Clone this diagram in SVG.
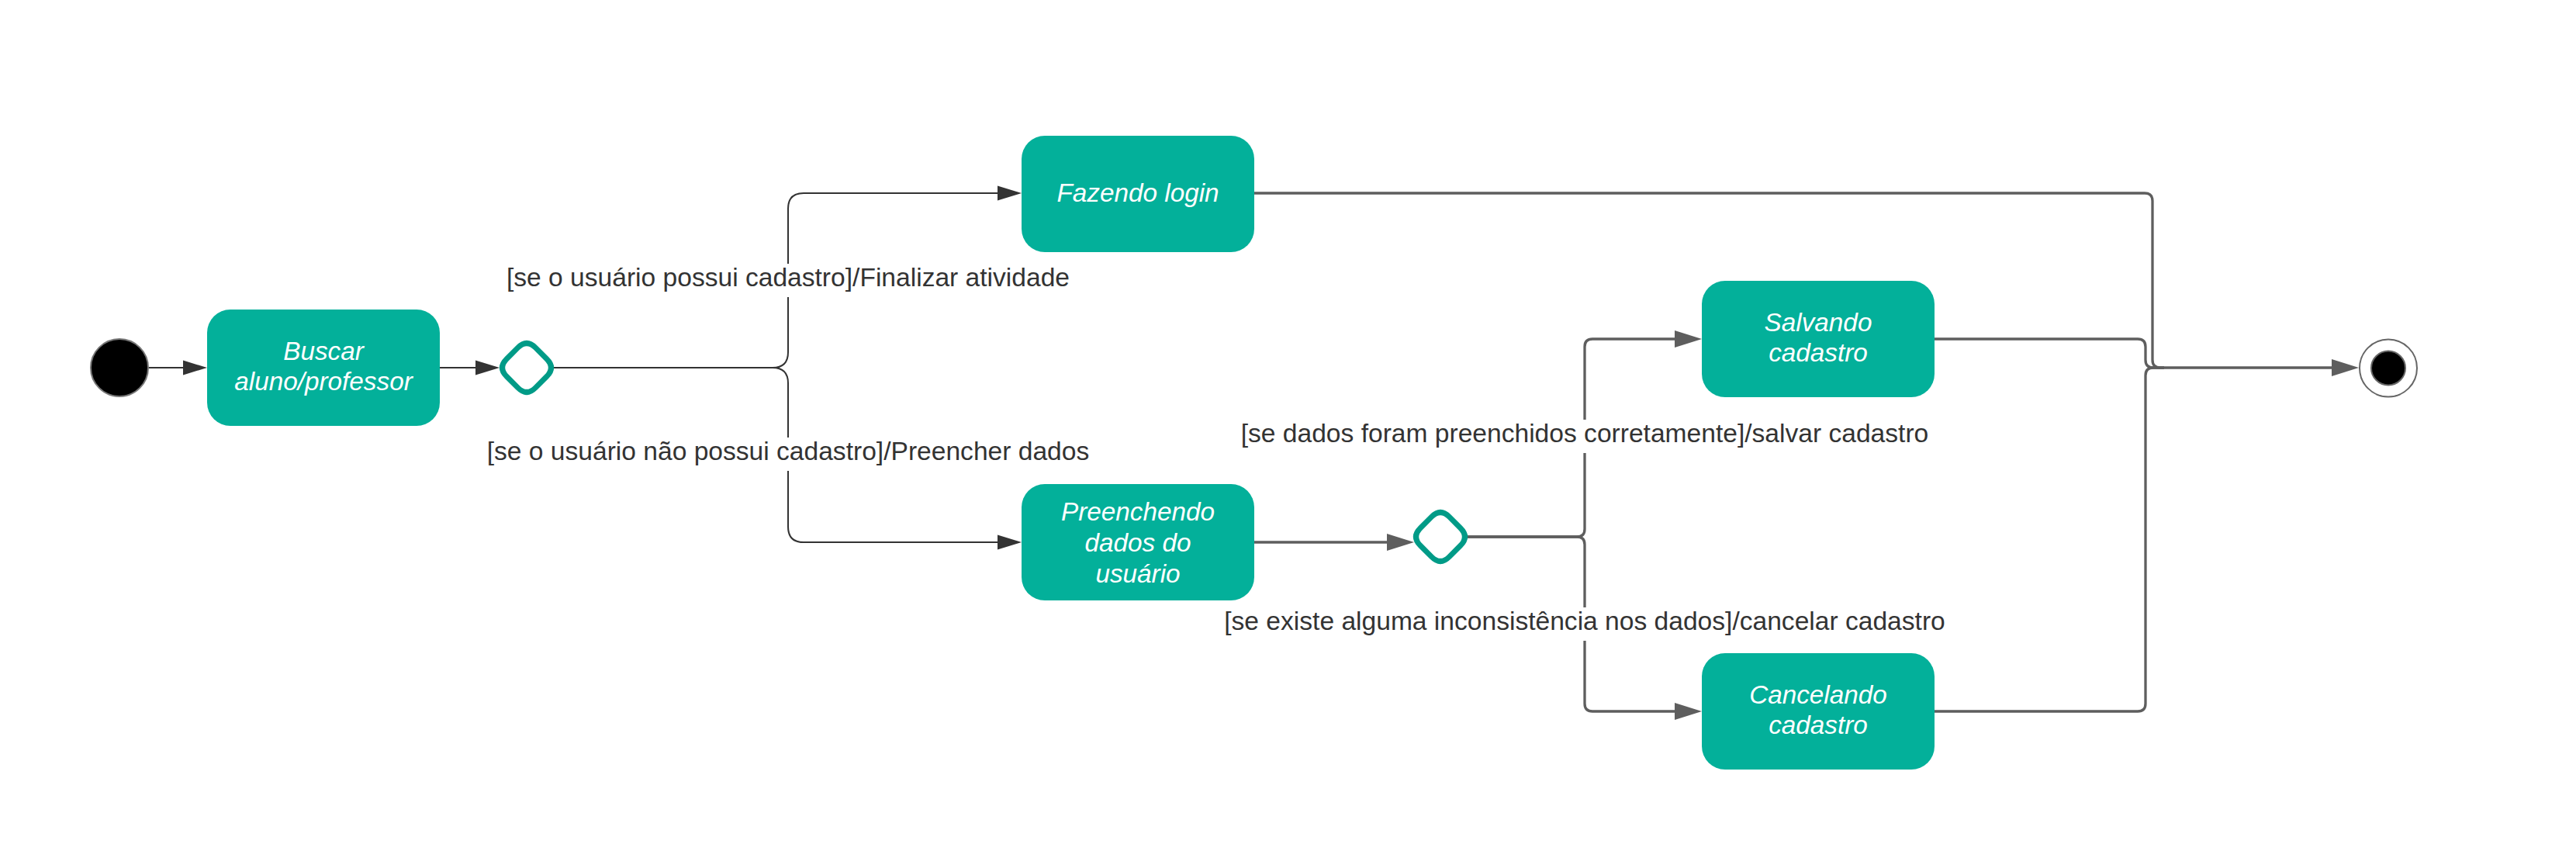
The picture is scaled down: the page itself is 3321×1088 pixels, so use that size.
<svg xmlns="http://www.w3.org/2000/svg" width="3321" height="1088" viewBox="0 0 3321 1088">
<style>
.box{fill:#03B09A;}
.ntxt{font-family:"Liberation Sans",Arial,sans-serif;font-size:33.3px;font-style:italic;fill:#FFFFFF;text-anchor:middle;}
.lbl{font-family:"Liberation Sans",Arial,sans-serif;font-size:33.6px;fill:#333333;text-anchor:middle;}
.lblbg{fill:#FFFFFF;}
.dia{fill:#FFFFFF;stroke:#009B87;stroke-width:7;stroke-linejoin:round;}
.thin{fill:none;stroke:#333333;stroke-width:2;}
.thick{fill:none;stroke:#5E5E5E;stroke-width:3.3;}
.ah1{fill:#333333;}
.ah2{fill:#5E5E5E;}
</style>
<defs>
<path id="diamond" d="M -11.31,-25.85 Q 0,-37.16 11.31,-25.85 L 25.85,-11.31 Q 37.16,0 25.85,11.31 L 11.31,25.85 Q 0,37.16 -11.31,25.85 L -25.85,11.31 Q -37.16,0 -25.85,-11.31 Z"/>
</defs>
<rect width="3321" height="1088" fill="#FFFFFF"/>

<g id="connectors">
  <path class="thin" d="M 191 474 H 238"/>
  <polygon class="ah1" points="236,464.5 267,474 236,483.5"/>
  <path class="thin" d="M 567 474 H 615"/>
  <polygon class="ah1" points="613,464.5 644,474 613,483.5"/>
  <path class="thin" d="M 714 474 H 996 Q 1016 474 1016 454 V 269 Q 1016 249 1036 249 H 1288"/>
  <polygon class="ah1" points="1286,239.5 1317,249 1286,258.5"/>
  <path class="thin" d="M 714 474 H 996 Q 1016 474 1016 494 V 679 Q 1016 699 1036 699 H 1288"/>
  <polygon class="ah1" points="1286,689.5 1317,699 1286,708.5"/>

  <path class="thick" d="M 1616 249 H 2765 Q 2775 249 2775 259 V 464 Q 2775 474 2785 474 H 3008"/>
  <polygon class="ah2" points="3006,463 3041,474 3006,485"/>
  <path class="thick" d="M 1616 699 H 1790"/>
  <polygon class="ah2" points="1788,688 1823,699 1788,710"/>
  <path class="thick" d="M 1892 692 H 2033 Q 2043 692 2043 682 V 447 Q 2043 437 2053 437 H 2161"/>
  <polygon class="ah2" points="2159,426 2194,437 2159,448"/>
  <path class="thick" d="M 1892 692 H 2033 Q 2043 692 2043 702 V 907 Q 2043 917 2053 917 H 2161"/>
  <polygon class="ah2" points="2159,906 2194,917 2159,928"/>
  <path class="thick" d="M 2494 437 H 2756 Q 2766 437 2766 447 V 464 Q 2766 474 2776 474 H 2790"/>
  <path class="thick" d="M 2494 917 H 2756 Q 2766 917 2766 907 V 484 Q 2766 474 2776 474 H 2790"/>
</g>

<g id="labels">
  <rect class="lblbg" x="648" y="340" width="736" height="43"/>
  <text class="lbl" x="1016" y="369">[se o usuário possui cadastro]/Finalizar atividade</text>
  <rect class="lblbg" x="622" y="564" width="788" height="43"/>
  <text class="lbl" x="1016" y="593">[se o usuário não possui cadastro]/Preencher dados</text>
  <rect class="lblbg" x="1596" y="541" width="894" height="43"/>
  <text class="lbl" x="2043" y="570">[se dados foram preenchidos corretamente]/salvar cadastro</text>
  <rect class="lblbg" x="1575" y="783" width="935" height="43"/>
  <text class="lbl" x="2043" y="812">[se existe alguma inconsistência nos dados]/cancelar cadastro</text>
</g>

<g id="start">
  <circle cx="154" cy="474" r="37" fill="#000000" stroke="#777777" stroke-width="2"/>
</g>

<g id="buscar">
  <rect class="box" x="267" y="399" width="300" height="150" rx="30" ry="30"/>
  <text class="ntxt" x="417" y="463.5">Buscar</text>
  <text class="ntxt" x="417" y="503">aluno/professor</text>
</g>

<g id="decision1">
  <use href="#diamond" class="dia" transform="translate(679,474)"/>
</g>

<g id="fazendo-login">
  <rect class="box" x="1317" y="175" width="300" height="150" rx="30" ry="30"/>
  <text class="ntxt" x="1467" y="259.5">Fazendo login</text>
</g>

<g id="preenchendo">
  <rect class="box" x="1317" y="624" width="300" height="150" rx="30" ry="30"/>
  <text class="ntxt" x="1467" y="670.5">Preenchendo</text>
  <text class="ntxt" x="1467" y="710.5">dados do</text>
  <text class="ntxt" x="1467" y="750.5">usuário</text>
</g>

<g id="decision2">
  <use href="#diamond" class="dia" transform="translate(1857,692)"/>
</g>

<g id="salvando">
  <rect class="box" x="2194" y="362" width="300" height="150" rx="30" ry="30"/>
  <text class="ntxt" x="2344" y="426.5">Salvando</text>
  <text class="ntxt" x="2344" y="466">cadastro</text>
</g>

<g id="cancelando">
  <rect class="box" x="2194" y="842" width="300" height="150" rx="30" ry="30"/>
  <text class="ntxt" x="2344" y="906.5">Cancelando</text>
  <text class="ntxt" x="2344" y="946">cadastro</text>
</g>

<g id="end">
  <circle cx="3079" cy="474.5" r="37" fill="#FFFFFF" stroke="#666666" stroke-width="2"/>
  <circle cx="3079" cy="474.5" r="22" fill="#000000" stroke="#666666" stroke-width="2"/>
</g>
</svg>
